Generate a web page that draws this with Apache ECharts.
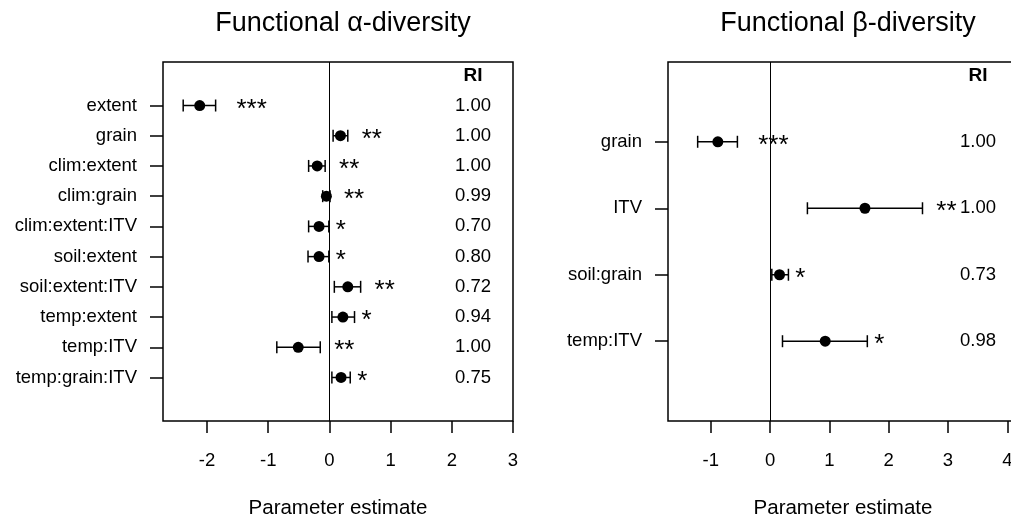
<!DOCTYPE html>
<html>
<head>
<meta charset="utf-8">
<script src="https://cdn.jsdelivr.net/npm/echarts@6/dist/echarts.min.js"></script>
<style>
html,body{margin:0;padding:0;background:#fff;}
#chart{width:1011px;height:520px;}
</style>
</head>
<body>
<div id="chart"></div>
<script>
// ---- data ----
var alphaTerms = ["extent","grain","clim:extent","clim:grain","clim:extent:ITV","soil:extent","soil:extent:ITV","temp:extent","temp:ITV","temp:grain:ITV"];
var alphaEst   = [-2.12, 0.18, -0.20, -0.05, -0.17, -0.17, 0.30, 0.22, -0.51, 0.19];
var alphaLo    = [-2.39, 0.06, -0.34, -0.11, -0.34, -0.35, 0.08, 0.04, -0.86, 0.04];
var alphaHi    = [-1.86, 0.30, -0.07, 0.01, -0.01, -0.01, 0.51, 0.41, -0.15, 0.34];
var alphaStars = ["***","**","**","**","*","*","**","*","**","*"];
var alphaRI    = ["1.00","1.00","1.00","0.99","0.70","0.80","0.72","0.94","1.00","0.75"];

var betaTerms = ["grain","ITV","soil:grain","temp:ITV"];
var betaEst   = [-0.88, 1.60, 0.16, 0.93];
var betaLo    = [-1.22, 0.63, 0.03, 0.21];
var betaHi    = [-0.55, 2.57, 0.31, 1.64];
var betaStars = ["***","**","*","*"];
var betaRI    = ["1.00","1.00","0.73","0.98"];

var alphaTicks = [-2, -1, 0, 1, 2, 3];
var betaTicks  = [-1, 0, 1, 2, 3, 4];

var titles = ["Functional \u03b1-diversity", "Functional \u03b2-diversity"];
var xName = "Parameter estimate";
var riHeader = "RI";

// ---- chart ----
var FONT = "'Liberation Sans', Arial, Helvetica, sans-serif";
var chart = echarts.init(document.getElementById('chart'), null, {renderer: 'canvas'});

function range(n, start){ var a=[]; for(var i=0;i<n;i++) a.push(i+start); return a; }

function panel(idx, terms, est, lo, hi, stars, ri, ticks, xmin, xmax, ymin, ymax){
  var n = terms.length;
  var xAxis = {
    type:'value', gridIndex: idx, min: xmin, max: xmax, position:'bottom',
    axisLine:{show:false, onZero:false},
    splitLine:{show:false},
    axisTick:{show:true, length:12, inside:false, customValues: ticks, lineStyle:{color:'#000', width:1.5}},
    axisLabel:{show:true, customValues: ticks, margin:30, color:'#000', fontSize:18.5, fontFamily:FONT},
    name: xName, nameLocation:'middle', nameGap:77,
    nameTextStyle:{color:'#000', fontSize:20.5, fontFamily:FONT}
  };
  var yAxisL = {
    type:'value', gridIndex: idx, min: ymin, max: ymax, inverse:true, position:'left',
    axisLine:{show:false, onZero:false},
    splitLine:{show:false},
    axisTick:{show:true, length:13, customValues: range(n,1), lineStyle:{color:'#000', width:1.5}},
    axisLabel:{show:true, customValues: range(n,1), margin:26, color:'#000', fontSize:18.5, fontFamily:FONT,
      formatter:function(v){ return terms[Math.round(v)-1] || ''; }}
  };
  var yAxisR = {
    type:'value', gridIndex: idx, min: ymin, max: ymax, inverse:true, position:'right',
    axisLine:{show:false, onZero:false},
    splitLine:{show:false},
    axisTick:{show:false},
    axisLabel:{show:true, inside:true, align:'center', customValues: range(n+1,0), margin:40, color:'#000', fontSize:18.5, fontFamily:FONT,
      formatter:function(v){ var k=Math.round(v); return k===0 ? '{b|'+riHeader+'}' : (ri[k-1]||''); },
      rich:{b:{fontWeight:'bold', fontSize:19, fontFamily:FONT, color:'#000'}}}
  };
  var barData = [], ptData = [];
  for (var i=0;i<n;i++){ barData.push([lo[i], hi[i], i+1]); ptData.push([est[i], i+1]); }
  var series = [
    {
      type:'custom', xAxisIndex: idx, yAxisIndex: idx*2, silent:true,
      encode:{x:[0,1], y:2},
      data: barData,
      renderItem:function(params, api){
        var y = api.value(2);
        var p1 = api.coord([api.value(0), y]);
        var p2 = api.coord([api.value(1), y]);
        var cap = 6;
        var ls = {stroke:'#000', lineWidth:1.5};
        var st = stars[params.dataIndex];
        return {type:'group', children:[
          {type:'line', shape:{x1:p1[0], y1:p1[1], x2:p2[0], y2:p2[1]}, style:ls},
          {type:'line', shape:{x1:p1[0], y1:p1[1]-cap, x2:p1[0], y2:p1[1]+cap}, style:ls},
          {type:'line', shape:{x1:p2[0], y1:p2[1]-cap, x2:p2[0], y2:p2[1]+cap}, style:ls},
          {type:'text', style:{text: st, x: p2[0] + 12*st.length, y: p2[1] + 4,
            fill:'#000', fontSize:26, fontFamily:FONT, align:'center', verticalAlign:'middle'}}
        ]};
      }
    },
    {
      type:'scatter', xAxisIndex: idx, yAxisIndex: idx*2, silent:true,
      symbol:'circle', symbolSize:11, itemStyle:{color:'#000', opacity:1},
      data: ptData,
      markLine:{silent:true, symbol:['none','none'], label:{show:false},
        lineStyle:{color:'#000', width:1, type:'solid'}, data:[{xAxis:0}]}
    }
  ];
  return {xAxis:xAxis, yAxes:[yAxisL, yAxisR], series:series};
}

var pA = panel(0, alphaTerms, alphaEst, alphaLo, alphaHi, alphaStars, alphaRI, alphaTicks, -2.72, 3.0, -0.44, 11.44);
var pB = panel(1, betaTerms, betaEst, betaLo, betaHi, betaStars, betaRI, betaTicks, -1.72, 4.18, -0.2, 5.2);

var option = {
  animation:false,
  backgroundColor:'#fff',
  title:[
    {text:titles[0], left:338, top:5, textAlign:'center', textStyle:{color:'#000', fontSize:27, fontWeight:'normal', fontFamily:FONT}},
    {text:titles[1], left:843, top:5, textAlign:'center', textStyle:{color:'#000', fontSize:27, fontWeight:'normal', fontFamily:FONT}}
  ],
  grid:[
    {left:163, top:62, width:350, height:359, containLabel:false, outerBoundsMode:'none', show:true, borderColor:'#000', borderWidth:1.5, backgroundColor:'transparent'},
    {left:668, top:62, width:350, height:359, containLabel:false, outerBoundsMode:'none', show:true, borderColor:'#000', borderWidth:1.5, backgroundColor:'transparent'}
  ],
  xAxis:[pA.xAxis, pB.xAxis],
  yAxis:[pA.yAxes[0], pA.yAxes[1], pB.yAxes[0], pB.yAxes[1]],
  series: pA.series.concat(pB.series)
};
chart.setOption(option);
</script>
</body>
</html>
